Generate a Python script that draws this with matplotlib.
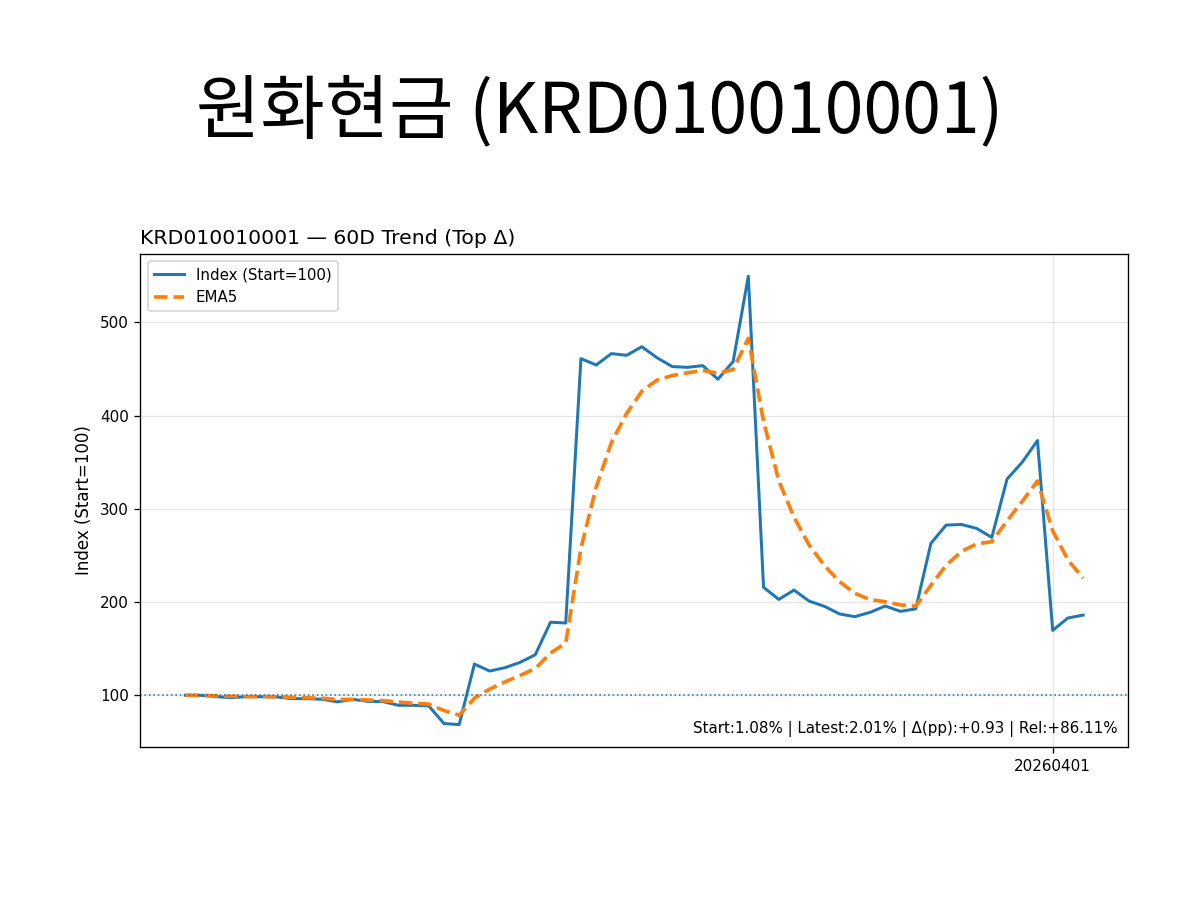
import numpy as np
import matplotlib
matplotlib.use("Agg")
import matplotlib.pyplot as plt

# 60 trading days, index rebased to start = 100
index_vals = [100.0, 100.0, 98.6, 97.5, 98.5, 98.5, 98.2, 96.4, 96.4, 95.7,
              93.0, 95.7, 93.5, 93.2, 89.3, 89.3, 88.6, 69.7, 68.6, 133.5,
              126.0, 129.6, 135.3, 143.5, 178.4, 177.5, 461.0, 454.2, 466.4, 464.6,
              473.8, 462.0, 452.5, 451.7, 453.5, 439.0, 457.8, 549.4, 215.8, 202.8,
              212.8, 201.0, 195.4, 187.2, 184.3, 189.0, 195.7, 190.0, 192.7, 263.0,
              282.5, 283.2, 279.0, 269.3, 331.8, 350.0, 373.2, 169.6, 182.9, 186.0]

ema5_vals = [100.0, 100.0, 99.5, 98.9, 98.7, 98.7, 98.5, 97.8, 97.3, 96.8,
             95.5, 95.6, 94.9, 94.3, 92.7, 91.5, 90.6, 83.6, 78.6, 96.9,
             106.6, 114.3, 121.3, 128.7, 145.3, 156.0, 257.7, 323.2, 370.9, 402.2,
             426.0, 438.0, 442.9, 445.8, 448.4, 445.3, 449.4, 482.8, 393.8, 330.1,
             291.0, 261.0, 239.1, 221.8, 209.3, 202.6, 200.3, 196.9, 195.5, 218.0,
             239.5, 254.1, 262.4, 264.7, 287.1, 308.0, 329.8, 276.4, 245.2, 225.5]

tick_pos = [57]
tick_labels = ["20260401"]

title_main = "원화현금 (KRD010010001)"
title_ax = "KRD010010001 — 60D Trend (Top Δ)"
stats_txt = "Start:1.08% | Latest:2.01% | Δ(pp):+0.93 | Rel:+86.11%"

plt.rcParams["font.size"] = 9.1

fig = plt.figure(figsize=(10, 7.5), dpi=120)
ax = fig.add_axes([0.117, 0.17, 0.823, 0.548])

x = np.arange(len(index_vals))
ax.plot(x, index_vals, color="C0", lw=1.8, label="Index (Start=100)")
ax.plot(x, ema5_vals, color="C1", lw=2.2, ls="--", label="EMA5")
ax.axhline(100, color="C0", lw=1, ls=":", alpha=0.9)

ax.set_xticks(tick_pos)
ax.set_xticklabels(tick_labels)
ax.grid(True, alpha=0.3)
ax.set_ylabel("Index (Start=100)", fontsize=10)
ax.set_title(title_ax, loc="left", fontsize=12.2)
ax.legend(loc="upper left", fontsize=9)
ax.text(0.99, 0.02, stats_txt, transform=ax.transAxes, ha="right", va="bottom",
        fontsize=9.1)

fig.text(0.5, 0.875, title_main, ha="center", va="center", fontsize=42,
         family=["Noto Sans CJK KR", "DejaVu Sans"])

fig.savefig("out.png", dpi=120)
